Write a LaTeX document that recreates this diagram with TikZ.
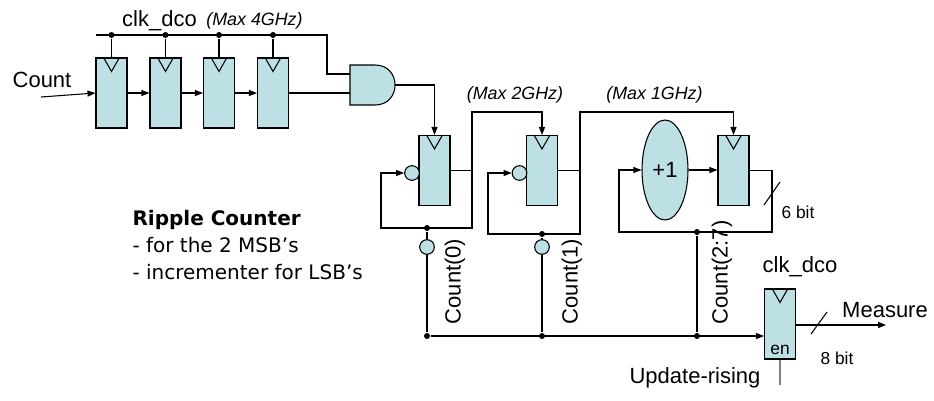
\documentclass[tikz,border=0pt]{standalone}
\usepackage{fontspec}
\setmainfont{Liberation Sans}
\newfontfamily\tahoma{DejaVu Sans}
\usetikzlibrary{positioning, calc}
\usetikzlibrary{shapes.geometric}
\usetikzlibrary{arrows.meta}
\definecolor{ffblue}{RGB}{188,224,228}
\tikzset{
  ff/.style = {draw, fill=ffblue, rectangle, minimum width=23.25pt, minimum height=52.5pt, inner sep=0pt},
  bub/.style = {draw, fill=ffblue, circle, minimum size=11pt, inner sep=0pt},
  dot/.style = {circle, fill, minimum size=4.5pt, inner sep=0pt},
  lbl/.style = {font=\fontsize{16.5}{19}\selectfont, inner sep=0pt},
  maxlbl/.style = {font=\fontsize{13.4}{16}\selectfont\itshape, inner sep=0pt},
  small/.style = {font=\fontsize{13}{15}\selectfont, inner sep=0pt}
}

\begin{document}
\begin{tikzpicture}[x=0.75pt, y=-0.75pt, line width=0.8pt, >={Triangle[length=6pt,width=4.5pt]}]
                \useasboundingbox (0,0) rectangle (934,400);
                \node[ff] (f1) at (111.5,93) {};
                \node[ff] (f2) at (165.5,93) {};
                \node[ff] (f3) at (219,93) {};
                \node[ff] (f4) at (273,93) {};
                \draw[fill=ffblue] (350,65) -- (375,65) .. controls (401.7,65) and (401.7,105) .. (375,105) -- (350,105) -- cycle;
                \coordinate (gin1) at (350,74);
                \coordinate (gin2) at (350,93);
                \coordinate (gout) at (395,85);
                \node[ff] (f5) at (434.5,170.5) {};
                \node[bub] (b5) at (412,173) {};
                \node[ff] (f6) at (542,170.5) {};
                \node[bub] (b6) at (519.5,173) {};
                \node[draw, fill=ffblue, ellipse, minimum width=34.5pt, minimum height=75pt, inner sep=0pt, lbl] (inc) at (665,170) {+1};
                \node[ff] (f7) at (733.5,170.5) {};
                \node[ff] (f8) at (780,324) {};
                \foreach \f in {f1,f2,f3,f4,f5,f6,f7,f8}
                    \draw ($(\f.north)+(-8,0)$) -- ($(\f.north)+(0,14)$) -- ($(\f.north)+(8,0)$);
                \node[small] (ten) at (780,350) {en};
                \node[lbl] (tclk) at (159.5,21) {clk\_dco};
                \node[maxlbl] (tmax4) at (254.5,21) {(Max 4GHz)};
                \node[maxlbl] (tmax2) at (515,95) {(Max 2GHz)};
                \node[maxlbl] (tmax1) at (654.5,95) {(Max 1GHz)};
                \node[lbl] (tcount) at (42,80) {Count};
                \node[lbl, rotate=90] (tc0) at (455,281.5) {Count(0)};
                \node[lbl, rotate=90] (tc1) at (572,281.5) {Count(1)};
                \node[lbl, rotate=90] (tc2) at (722,272.5) {Count(2:7)};
                \node[small] (t6) at (798,212) {6 bit};
                \node[small] (t8) at (837,358) {8 bit};
                \node[lbl] (tmeas) at (885,310) {Measure};
                \node[lbl] (tclk2) at (800,267) {clk\_dco};
                \node[lbl] (tupd) at (695,378) {Update-rising};
                \node[anchor=west, align=left, inner sep=0pt, font=\tahoma\fontsize{15}{20.25}\selectfont] (tripple) at (132,245) {\textbf{Ripple Counter}\\- for the 2 MSB’s\\- incrementer for LSB’s};
                \coordinate (ck0) at (96,35);
                \coordinate (ck1) at (327,35);
                \draw (ck0) -- (ck1) |- (gin1);
                \foreach \i in {1,...,4} {
                    \node[dot] (k\i) at (f\i.north |- ck0) {};
                    \draw (k\i) -- (f\i.north);
                }
                \coordinate (cin) at (41,97);
                \draw[->] (cin) -- (f1.west);
                \draw[->] (f1) -- (f2);
                \draw[->] (f2) -- (f3);
                \draw[->] (f3) -- (f4);
                \draw (f4.east) -- (gin2);
                \draw[->] (gout) -| (f5.north);
                \coordinate (r5) at (472,228);
                \coordinate (l5) at (381,173);
                \coordinate (u5) at (472,112);
                \draw[->] (f5.east) -| (r5) -| (l5) -- (b5.west);
                \draw[->] (f5.east -| r5) -- (u5) -| (f6.north);
                \coordinate (r6) at (580,234);
                \coordinate (l6) at (488,173);
                \coordinate (u6) at (580,112);
                \draw[->] (f6.east) -| (r6) -| (l6) -- (b6.west);
                \draw[->] (f6.east -| r6) -- (u6) -| (f7.north);
                \coordinate (r7) at (772,232);
                \coordinate (l7) at (619,170);
                \draw[->] (f7.east) -| (r7) -| (l7) -- (inc.west);
                \draw[->] (inc.east) -- (f7.west |- inc.east);
                \draw (764,205) -- (780,182);
                \node[dot] (d5) at (427,228) {};
                \node[bub] (c0) at (427,247) {};
                \node[dot] (e0) at (427,336) {};
                \node[dot] (d6) at (542,234) {};
                \node[bub] (c1) at (542,247) {};
                \node[dot] (e1) at (542,336) {};
                \node[dot] (d7) at (697,232) {};
                \node[dot] (e2) at (697,336) {};
                \draw (d5) -- (c0) -- (e0);
                \draw (d6) -- (c1) -- (e1);
                \draw (d7) -- (e2);
                \draw[->] (e0) -- (f8.west |- e0);
                \coordinate (mout) at (886,325);
                \draw[->] (f8.east |- mout) -- (mout);
                \draw (811,334) -- (827,312);
                \coordinate (upd) at (780,385);
                \draw[gray] (f8.south) -- (upd);
            \end{tikzpicture}
\end{document}
